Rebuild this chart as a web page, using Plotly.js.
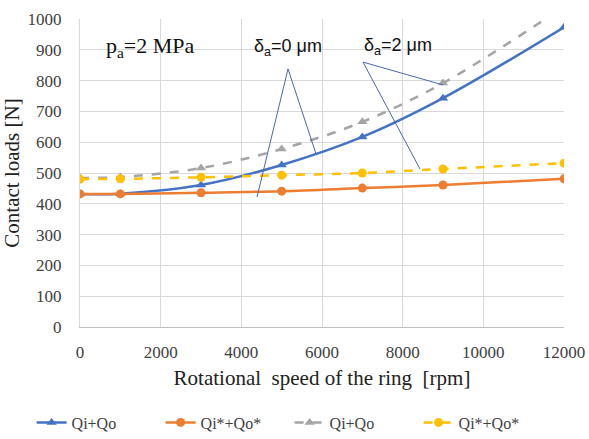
<!DOCTYPE html>
<html>
<head>
<meta charset="utf-8">
<script src="https://cdn.plot.ly/plotly-3.0.1.min.js"></script>
<style>html,body{margin:0;padding:0;background:#fff;}#chart{width:589px;height:439px;}</style>
</head>
<body>
<div id="chart"></div>
<script>
const speed = [0, 1000, 3000, 5000, 7000, 9000, 12000];
const speedTicks = [0, 2000, 4000, 6000, 8000, 10000, 12000];
const speedTickText = ['0', '2000', '4000', '6000', '8000', '10000', '12000'];
const qSum0 = [432, 433, 461, 526, 617, 743, 973];
const qStar0 = [432, 432, 436, 441, 451, 461, 481];
const qSum2 = [484, 487, 516, 578, 666, 792, 1040];
const qStar2 = [480, 481, 486, 493, 500, 513, 532];
const names = ['Qi+Qo', 'Qi*+Qo*', 'Qi+Qo', 'Qi*+Qo*'];

const serif = 'Liberation Serif';
const sans = 'Liberation Sans, Arial, sans-serif';

const traces = [
  {x: speed, y: qSum0, name: names[0], mode: 'lines+markers', line: {color: '#4472C4', width: 2.5, shape: 'spline'}, marker: {symbol: 'triangle-up', size: 9, color: '#4472C4'}},
  {x: speed, y: qStar0, name: names[1], mode: 'lines+markers', line: {color: '#ED7D31', width: 2.5, shape: 'spline'}, marker: {symbol: 'circle', size: 9, color: '#ED7D31'}},
  {x: speed, y: qSum2, name: names[2], mode: 'lines+markers', line: {color: '#A5A5A5', width: 2.5, dash: 'dash', shape: 'spline'}, marker: {symbol: 'triangle-up', size: 9, color: '#A5A5A5'}},
  {x: speed, y: qStar2, name: names[3], mode: 'lines+markers', line: {color: '#FFC000', width: 2.5, dash: 'dash', shape: 'spline'}, marker: {symbol: 'circle', size: 9, color: '#FFC000'}}
];

const lc = '#4a68a8';
const seg = (x0, y0, x1, y1) => ({type: 'line', xref: 'x', yref: 'y', x0, y0, x1, y1, line: {color: lc, width: 1}});

const layout = {
  width: 589, height: 439,
  margin: {l: 80, r: 25, t: 19, b: 112, autoexpand: false},
  paper_bgcolor: '#fff', plot_bgcolor: '#fff',
  showlegend: true,
  legend: {orientation: 'h', x: -0.1, xanchor: 'left', y: -0.255, yanchor: 'top',
    entrywidth: 84, entrywidthmode: 'pixels',
    font: {family: serif, size: 16, color: '#404040'}},
  xaxis: {
    range: [0, 12000], tickvals: speedTicks, ticktext: speedTickText,
    showgrid: true, gridcolor: '#d9d9d9', zeroline: false, showline: true, linecolor: '#bfbfbf',
    tickfont: {family: serif, size: 17, color: '#404040'}, ticks: '', ticklabelstandoff: 10,
    title: {text: 'Rotational  speed of the ring  [rpm]', font: {family: serif, size: 21, color: '#222'}, standoff: 8}
  },
  yaxis: {
    range: [0, 1000], dtick: 100,
    showgrid: true, gridcolor: '#d9d9d9', zeroline: false, showline: true, linecolor: '#d9d9d9',
    tickfont: {family: serif, size: 17, color: '#404040'}, ticks: '', ticklabelstandoff: 14,
    title: {text: 'Contact loads [N]', font: {family: serif, size: 21, color: '#222'}, standoff: 8}
  },
  shapes: [
    seg(5157, 838, 4389, 422),
    seg(5157, 838, 5852, 562),
    seg(7017, 860, 9001, 786),
    seg(7017, 860, 8430, 513)
  ],
  annotations: [
    {x: 1736, y: 909, xref: 'x', yref: 'y', text: 'p<sub>a</sub>=2 MPa', showarrow: false, font: {family: serif, size: 22, color: '#111'}},
    {x: 5157, y: 909, xref: 'x', yref: 'y', text: 'δ<sub>a</sub>=0 μm', showarrow: false, font: {family: sans, size: 18, color: '#111'}},
    {x: 7885, y: 912, xref: 'x', yref: 'y', text: 'δ<sub>a</sub>=2 μm', showarrow: false, font: {family: sans, size: 18, color: '#111'}}
  ]
};

Plotly.newPlot('chart', traces, layout, {displayModeBar: false, staticPlot: true});
</script>
</body>
</html>
